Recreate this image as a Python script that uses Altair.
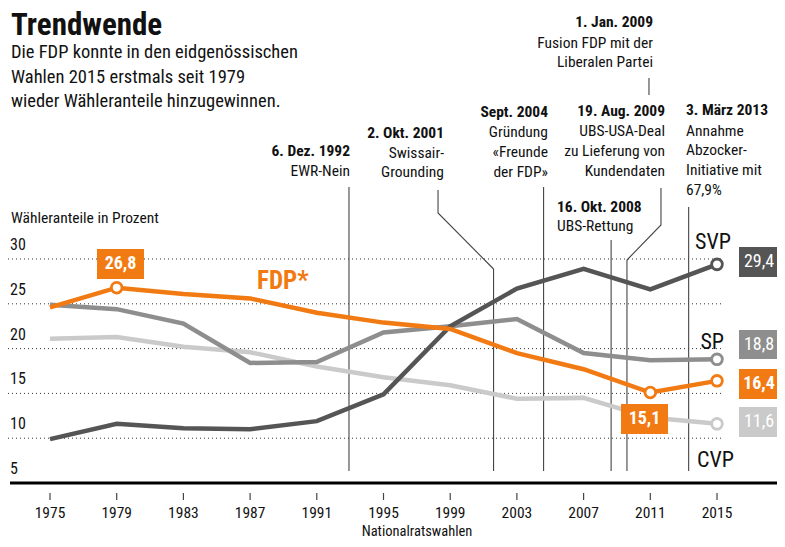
import altair as alt
import pandas as pd

# ---------------- data ----------------
years = [1975, 1979, 1983, 1987, 1991, 1995, 1999, 2003, 2007, 2011, 2015]
fdp = [24.6, 26.8, 26.1, 25.6, 24.0, 22.9, 22.2, 19.5, 17.7, 15.1, 16.4]
svp = [9.9, 11.6, 11.1, 11.0, 11.9, 14.9, 22.5, 26.7, 28.9, 26.6, 29.4]
sp = [24.9, 24.4, 22.8, 18.4, 18.5, 21.8, 22.5, 23.3, 19.5, 18.7, 18.8]
cvp = [21.1, 21.3, 20.2, 19.6, 18.0, 16.8, 15.9, 14.4, 14.5, 12.3, 11.6]
y_ticks = [5, 10, 15, 20, 25, 30]
event_dates = [1992.93, 2001.6, 2004.6, 2008.65, 2009.6, 2013.3]

FONT = "Roboto Condensed, Liberation Sans Narrow, DejaVu Sans Condensed, sans-serif"
C_SVP, C_SP, C_CVP, C_FDP = "#555555", "#8e8e8e", "#cacaca", "#f27a12"
AN = 15.5  # annotation font size

W, H = 769, 531
xs = alt.Scale(domain=[1972.481, 2018.598], nice=False, zero=False)
ys = alt.Scale(domain=[-1.25, 58.013], nice=False, zero=False)


def X(f):
    return alt.X(f, type="quantitative", scale=xs, axis=None)


def Y(f):
    return alt.Y(f, type="quantitative", scale=ys, axis=None)


def PX(f):
    return alt.X(f, type="quantitative", scale=None, axis=None)


def PY(f):
    return alt.Y(f, type="quantitative", scale=None, axis=None)


layers = []

# gridlines
grid = pd.DataFrame({"v": y_ticks[1:]})
layers.append(alt.Chart(grid).mark_rule(color="#333333", strokeWidth=1, strokeDash=[1, 3]).encode(
    y=Y("v"), x=alt.value(0), x2=alt.value(714)))

# y tick labels
yl = pd.DataFrame({"v": y_ticks, "t": [str(v) for v in y_ticks]})
layers.append(alt.Chart(yl).mark_text(font=FONT, fontSize=16, align="left", baseline="middle",
                                      dy=-14, color="#111").encode(
    y=Y("v"), x=alt.value(2), text="t:N"))

# event lines
ev = pd.DataFrame({"year": event_dates, "top": [179, 261, 179, 232, 252, 199]})
layers.append(alt.Chart(ev).mark_rule(color="#444444", strokeWidth=1.1).encode(
    x=X("year"), y=PY("top"), y2=alt.value(463)))

# connectors
con = pd.DataFrame({
    "g": ["a", "a", "a", "b", "b", "b", "c", "c"],
    "o": [0, 1, 2, 0, 1, 2, 0, 1],
    "year": [1998.27, 1998.27, 2001.6, 2011.64, 2011.64, 2009.6, 2010.92, 2010.92],
    "py": [182, 205, 261, 180, 217, 252, 70, 87],
})
layers.append(alt.Chart(con).mark_line(color="#444444", strokeWidth=1.1).encode(
    x=X("year"), y=PY("py"), detail="g:N", order="o:Q"))

# series lines
for vals, col in [(cvp, C_CVP), (sp, C_SP), (svp, C_SVP), (fdp, C_FDP)]:
    d = pd.DataFrame({"year": years, "v": vals})
    layers.append(alt.Chart(d).mark_line(color=col, strokeWidth=4.5, strokeJoin="miter").encode(
        x=X("year"), y=Y("v")))

# end points
pts = pd.DataFrame({
    "year": [2015, 2015, 2015, 1979, 2011, 2015],
    "v": [svp[-1], sp[-1], cvp[-1], fdp[1], fdp[-2], fdp[-1]],
    "c": [C_SVP, C_SP, C_CVP, C_FDP, C_FDP, C_FDP],
})
layers.append(alt.Chart(pts).mark_point(shape="circle", filled=False, fill="white", fillOpacity=1,
                                        strokeWidth=2.8, size=115, opacity=1).encode(
    x=X("year"), y=Y("v"), stroke=alt.Stroke("c:N", scale=None)))

# axis baseline + ticks + labels
layers.append(alt.Chart(pd.DataFrame({"v": [5]})).mark_rule(color="black", strokeWidth=3).encode(
    y=Y("v"), x=alt.value(2), x2=alt.value(W)))
yr = pd.DataFrame({"year": years, "t": [str(y) for y in years]})
layers.append(alt.Chart(yr).mark_rule(color="#444", strokeWidth=1.2).encode(
    x=X("year"), y=alt.value(485), y2=alt.value(492)))
layers.append(alt.Chart(yr).mark_text(font=FONT, fontSize=15.5, baseline="middle", color="#111").encode(
    x=X("year"), y=alt.value(505), text="t:N"))

# boxes
boxes = pd.DataFrame({
    "x0": [731, 731, 731, 731, 89, 613],
    "x1": [769, 769, 769, 769, 136, 660],
    "y0": [239, 322, 361, 399, 241, 396],
    "y1": [269, 351, 391, 429, 271, 426],
    "c": [C_SVP, C_SP, C_FDP, C_CVP, C_FDP, C_FDP],
})
layers.append(alt.Chart(boxes).mark_rect().encode(
    x=PX("x0"), x2="x1", y=PY("y0"), y2="y1", fill=alt.Fill("c:N", scale=None)))

box_reg = pd.DataFrame({"t": ["29,4", "18,8", "11,6"], "x": [751, 751, 751], "y": [254, 336.5, 414]})
layers.append(alt.Chart(box_reg).mark_text(font=FONT, fontSize=18, color="white", baseline="middle").encode(
    x=PX("x"), y=PY("y"), text="t:N"))
box_bold = pd.DataFrame({"t": ["16,4", "26,8", "15,1"], "x": [751, 112.5, 636.5], "y": [376, 256, 411]})
layers.append(alt.Chart(box_bold).mark_text(font=FONT, fontSize=18, fontWeight="bold", color="white",
                                            baseline="middle").encode(
    x=PX("x"), y=PY("y"), text="t:N"))

# party labels
layers.append(alt.Chart(pd.DataFrame({"t": ["SVP", "CVP"], "x": [687, 689], "y": [234, 452]})).mark_text(
    font=FONT, fontSize=22, align="left", baseline="middle", color="#111").encode(
    x=PX("x"), y=PY("y"), text="t:N"))
layers.append(alt.Chart(pd.DataFrame({"t": ["SP"], "x": [716], "y": [334]})).mark_text(
    font=FONT, fontSize=22, align="right", baseline="middle", color="#111").encode(
    x=PX("x"), y=PY("y"), text="t:N"))
layers.append(alt.Chart(pd.DataFrame({"t": ["FDP*"], "x": [249], "y": [273]})).mark_text(
    font=FONT, fontSize=25, fontWeight="bold", align="left", baseline="middle", color=C_FDP).encode(
    x=PX("x"), y=PY("y"), text="t:N"))

# axis titles
layers.append(alt.Chart(pd.DataFrame({"t": ["Wähleranteile in Prozent"], "x": [3], "y": [210]})).mark_text(
    font=FONT, fontSize=15.5, align="left", baseline="middle", color="#111").encode(
    x=PX("x"), y=PY("y"), text="t:N"))
layers.append(alt.Chart(pd.DataFrame({"t": ["Nationalratswahlen"], "x": [409], "y": [524]})).mark_text(
    font=FONT, fontSize=14.5, align="center", baseline="middle", color="#111").encode(
    x=PX("x"), y=PY("y"), text="t:N"))

# header
layers.append(alt.Chart(pd.DataFrame({"t": ["Trendwende"], "x": [3], "y": [27]})).mark_text(
    font=FONT, fontSize=31, fontWeight="bold", align="left", baseline="alphabetic", color="#111").encode(
    x=PX("x"), y=PY("y"), text="t:N"))
sub = pd.DataFrame({"t": ["Die FDP konnte in den eidgenössischen", "Wahlen 2015 erstmals seit 1979",
                          "wieder Wähleranteile hinzugewinnen."],
                    "x": [3, 3, 3], "y": [44, 68.5, 93]})
layers.append(alt.Chart(sub).mark_text(font=FONT, fontSize=18.5, align="left", baseline="middle",
                                       color="#111").encode(
    x=PX("x"), y=PY("y"), text="t:N"))

# event annotations
r_bold = pd.DataFrame({"t": ["6. Dez. 1992", "2. Okt. 2001", "Sept. 2004", "19. Aug. 2009", "1. Jan. 2009"],
                       "x": [342, 436, 540, 657, 645], "y": [143, 125, 104, 103, 14]})
r_reg = pd.DataFrame({"t": ["EWR-Nein", "Swissair-", "Grounding", "Gründung", "«Freunde", "der FDP»",
                            "UBS-USA-Deal", "zu Lieferung von", "Kundendaten", "Fusion FDP mit der",
                            "Liberalen Partei"],
                      "x": [342, 436, 436, 540, 540, 540, 657, 657, 657, 645, 645],
                      "y": [163, 145, 164, 124, 144, 164, 123, 143, 163, 35, 54]})
l_bold = pd.DataFrame({"t": ["16. Okt. 2008", "3. März 2013"], "x": [549, 678], "y": [199, 102]})
l_reg = pd.DataFrame({"t": ["UBS-Rettung", "Annahme", "Abzocker-", "Initiative mit", "67,9%"],
                      "x": [549, 678, 678, 678, 678], "y": [218, 123, 142, 162, 182]})
for df, al, wt in [(r_bold, "right", "bold"), (r_reg, "right", "normal"),
                   (l_bold, "left", "bold"), (l_reg, "left", "normal")]:
    layers.append(alt.Chart(df).mark_text(font=FONT, fontSize=AN, fontWeight=wt, align=al,
                                          baseline="middle", color="#111").encode(
        x=PX("x"), y=PY("y"), text="t:N"))

chart = alt.layer(*layers).resolve_scale(x="independent", y="independent").properties(
    width=W, height=H, autosize=alt.AutoSizeParams(type="none"), padding=0,
).configure_view(stroke=None)

chart.save("out.html", embed_options={"renderer": "svg", "actions": False})
